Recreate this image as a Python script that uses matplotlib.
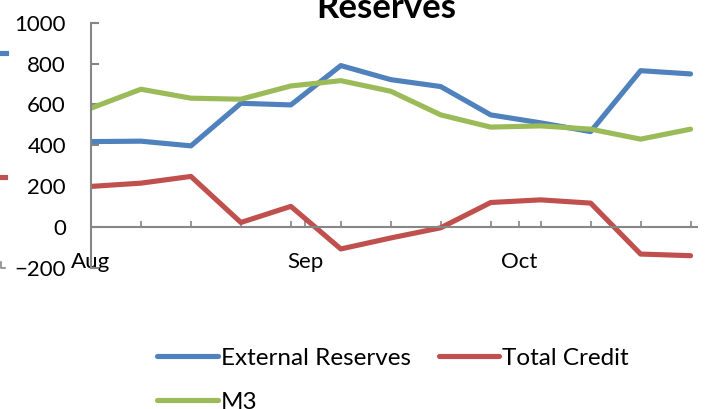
import numpy as np
import pandas as pd
import matplotlib
matplotlib.use("Agg")
from matplotlib import pyplot as plt
import matplotlib.dates as mdates
from matplotlib.ticker import FixedLocator
from matplotlib.lines import Line2D

plt.rcParams['font.family'] = ['Lato', 'DejaVu Sans']

# weekly readings, Aug - Oct
dates = pd.date_range("2009-08-02", periods=13, freq="7D")
external_reserves = [418, 420, 397, 606, 598, 791, 722, 688, 549, 510, 467, 766, 750]
total_credit = [198, 214, 247, 21, 100, -109, -55, -5, 119, 132, 116, -134, -142]
m3 = [582, 675, 631, 626, 691, 717, 665, 549, 489, 495, 479, 430, 479]

series_names = ["External Reserves", "Total Credit", "M3"]
colors = ["#4F81BD", "#C0504D", "#9BBB59"]
y_ticks = [-200, 0, 200, 400, 600, 800, 1000]

axis_grey = "#868686"

fig = plt.figure(figsize=(7.06, 4.09), dpi=100)
W, H = 706, 409
ax = fig.add_axes([91 / W, 1 - 267.5 / H, (697 - 91) / W, (267.5 - 23) / H])

lines = []
for vals, name, c in zip([external_reserves, total_credit, m3], series_names, colors):
    ln, = ax.plot(dates, vals, color=c, lw=3.7, label=name,
                  solid_capstyle="round", solid_joinstyle="round")
    lines.append(ln)

ax.set_ylim(-200, 1000)
ax.set_yticks(y_ticks)
ax.set_xlim(dates[0], dates[0] + pd.Timedelta(days=84.9))

# month labels at axis start and first of each month, weekly minor ticks
month_ticks = [dates[0]] + list(pd.date_range("2009-09-01", "2009-10-01", freq="MS"))
ax.xaxis.set_major_locator(FixedLocator(mdates.date2num(month_ticks)))
ax.xaxis.set_major_formatter(mdates.DateFormatter("%b"))
ax.xaxis.set_minor_locator(FixedLocator(mdates.date2num(dates)))

for s in ["top", "right"]:
    ax.spines[s].set_visible(False)
ax.spines["left"].set_color(axis_grey)
ax.spines["left"].set_linewidth(1.5)
ax.spines["bottom"].set_color(axis_grey)
ax.spines["bottom"].set_linewidth(1.5)
ax.spines["bottom"].set_position(("data", 0))

ax.tick_params(axis="y", direction="in", length=6, width=1.5, color=axis_grey,
               labelsize=16, pad=18)
ax.tick_params(axis="x", which="both", direction="in", length=4, width=1.2,
               color=axis_grey, labelsize=16, pad=18)

fig.text(386 / W, 1 - 18 / H, "Reserves", ha="center", va="baseline",
         fontsize=25, fontweight="bold")

# row-wise legend order: ER, TC on first row, M3 below
order = [0, 2, 1]
fig.legend([lines[i] for i in order], [series_names[i] for i in order],
           loc="upper left", bbox_to_anchor=(135 / W, 1 - 326 / H), ncol=2,
           frameon=False, fontsize=17.5, handlelength=2.5, handletextpad=0.12,
           columnspacing=1.15, labelspacing=0.95)

# fragments of the neighbouring chart on the left edge
fig.add_artist(Line2D([0, 6 / W], [1 - 53 / H] * 2, color=colors[0], lw=3.7))
fig.add_artist(Line2D([0, 5 / W], [1 - 177 / H] * 2, color=colors[1], lw=3.7))
fig.add_artist(Line2D([1 / W, 1 / W, 5 / W], [1 - 262 / H, 1 - 268 / H, 1 - 268 / H],
                      color=axis_grey, lw=1.2))

fig.savefig("out.png", dpi=100)
